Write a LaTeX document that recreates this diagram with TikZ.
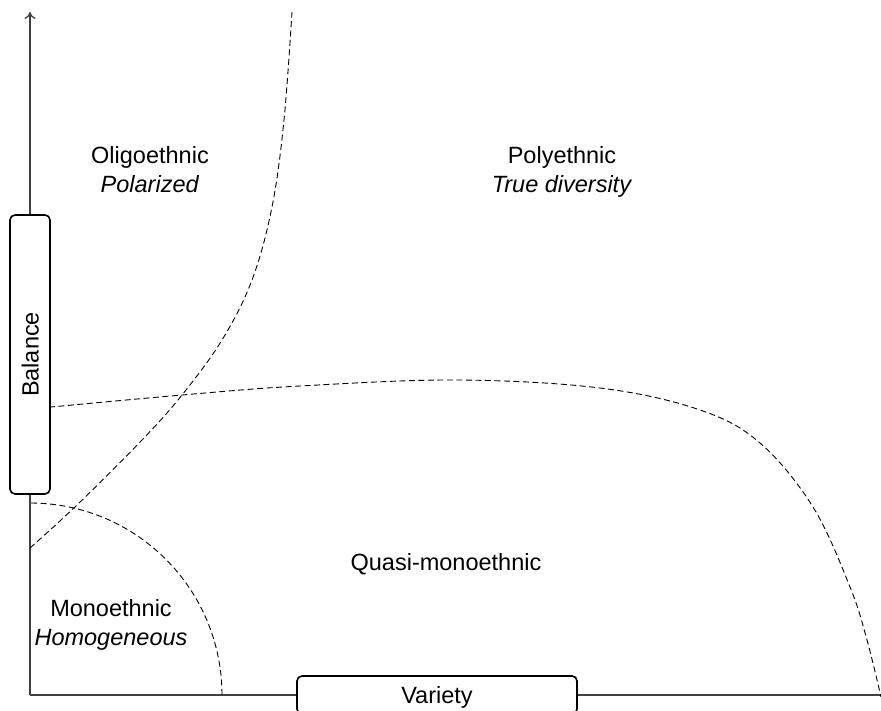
\documentclass[tikz,border=0pt]{standalone}
\usepackage{fontspec}
\setmainfont{Liberation Sans}
\usetikzlibrary{arrows.meta}
\begin{document}
\begin{tikzpicture}[x=1pt,y=-1pt,
  lbl/.style={font=\fontsize{23.5}{29}\selectfont, align=center, inner sep=0pt},
  boundary/.style={dash pattern=on 6pt off 3.5pt, line width=0.9pt, black},
  axis/.style={line width=1.3pt, black!75},
  axisbox/.style={draw=black, line width=1.6pt, fill=white, rounded corners=5pt,
    font=\fontsize{23.5}{29}\selectfont, inner sep=0pt, text depth=0pt}]
\useasboundingbox (0,0) rectangle (881,711);
% axes
\coordinate (O) at (30,695);
\coordinate (ytop) at (30,12);
\coordinate (xend) at (881,695);
\draw[axis, -{To[length=7pt,width=11pt]}] (O) -- (ytop);
\draw[axis] (O) -- (xend);
% boundaries
\draw[boundary] plot[smooth, tension=0.6] coordinates {(30,548) (77,505) (142,440) (182,395) (222,340) (252,280) (272,207) (284,120) (292,12)};
\draw[boundary] plot[smooth, tension=0.6] coordinates {(30,409) (182,395) (300,386) (457,380) (600,388) (700,410) (760,443) (813,507) (850,587) (867,640) (881,697)};
\draw[boundary] (222,695) arc[start angle=0, end angle=-90, radius=192];
% boxes
\node[axisbox, rotate=90, minimum width=279pt, minimum height=40pt] (balance) at (30,354.5) {Balance};
\node[axisbox, minimum width=280pt, minimum height=38pt] (variety) at (437,695) {Variety};
% labels
\node[lbl] (oligo) at (150,170) {Oligoethnic\\\textit{Polarized}};
\node[lbl] (poly) at (562,171.5) {Polyethnic\\\textit{True diversity}};
\node[lbl] (quasi) at (446,564) {Quasi-monoethnic};
\node[lbl] (mono) at (111,625) {Monoethnic\\\textit{Homogeneous}};
\end{tikzpicture}
\end{document}
